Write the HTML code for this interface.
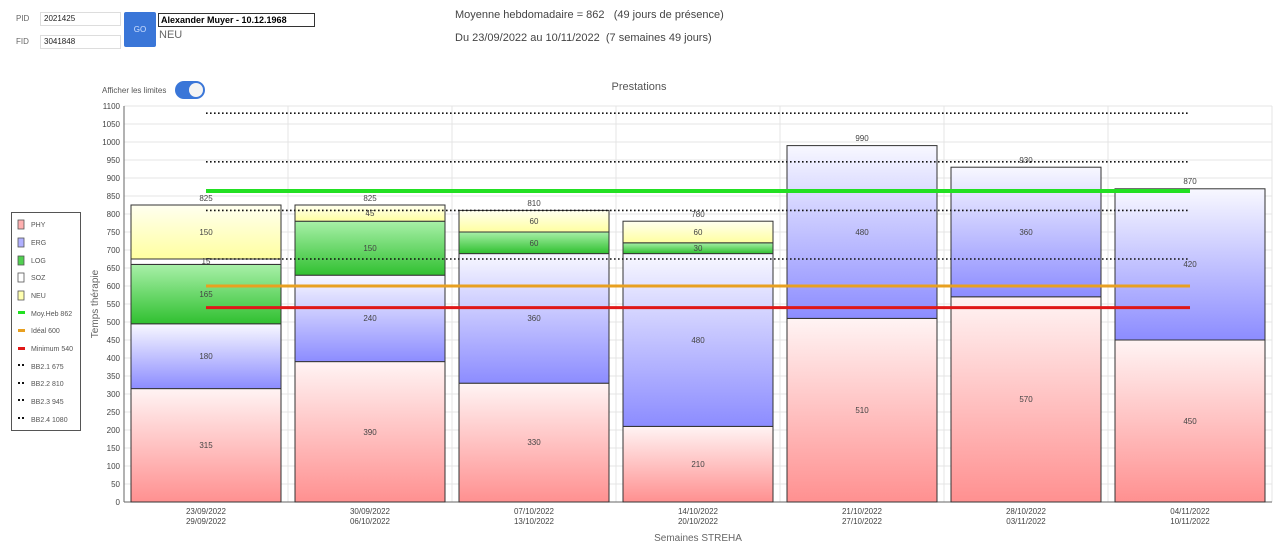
<!DOCTYPE html>
<html><head><meta charset="utf-8"><style>
body{margin:0;width:1280px;height:549px;background:#fff;font-family:"Liberation Sans",sans-serif;overflow:hidden;position:relative}
.a{position:absolute}
.inp{position:absolute;border:1px solid #ddd;font-size:8px;padding-left:3px;line-height:12px;height:12px;color:#222}
</style></head><body>
<div class="a" style="left:16px;top:14px;font-size:8px;color:#666">PID</div>
<div class="a" style="left:16px;top:37px;font-size:8px;color:#666">FID</div>
<div class="inp" style="left:40px;top:12px;width:76px">2021425</div>
<div class="inp" style="left:40px;top:35px;width:76px">3041848</div>
<div class="a" style="left:124px;top:12px;width:32px;height:35px;background:#3a76d8;border-radius:2px;color:#cfe0ff;font-size:8px;text-align:center;line-height:35px">GO</div>
<div class="a" style="left:158px;top:13px;width:153px;height:12px;border:1px solid #333;font-size:9px;font-weight:bold;line-height:12px;padding-left:2px">Alexander Muyer - 10.12.1968</div>
<div class="a" style="left:159px;top:29px;font-size:11px;color:#666">NEU</div>
<div class="a" style="left:455px;top:9px;font-size:11px;color:#444">Moyenne hebdomadaire = 862 &nbsp;&nbsp;(49 jours de présence)</div>
<div class="a" style="left:455px;top:32px;font-size:11px;color:#444">Du 23/09/2022 au 10/11/2022 &nbsp;(7 semaines 49 jours)</div>
<div class="a" style="left:102px;top:86px;font-size:8px;color:#555">Afficher les limites</div>
<div class="a" style="left:175px;top:81px;width:30px;height:18px;border-radius:9px;background:#3a76d8"><div class="a" style="left:14px;top:2px;width:14px;height:14px;border-radius:7px;background:#f4f4f4"></div></div>
<svg class="a" style="left:0;top:0" width="1280" height="549" font-family="Liberation Sans, sans-serif">
<defs>
<linearGradient id="phy" x1="0" y1="0" x2="0" y2="1"><stop offset="0" stop-color="#fff4f4"/><stop offset="1" stop-color="#ff9090"/></linearGradient>
<linearGradient id="erg" x1="0" y1="0" x2="0" y2="1"><stop offset="0" stop-color="#f8f8ff"/><stop offset="1" stop-color="#8c8cff"/></linearGradient>
<linearGradient id="log" x1="0" y1="0" x2="0" y2="1"><stop offset="0" stop-color="#a8f0a8"/><stop offset="1" stop-color="#30c030"/></linearGradient>
<linearGradient id="neu" x1="0" y1="0" x2="0" y2="1"><stop offset="0" stop-color="#fffff0"/><stop offset="1" stop-color="#ffffa0"/></linearGradient>
</defs>
<text x="639" y="90" font-size="11" fill="#555" text-anchor="middle">Prestations</text>
<g stroke="#e4e4e4" stroke-width="1">
<line x1="124" x2="1272" y1="106" y2="106"/><line x1="124" x2="1272" y1="124" y2="124"/><line x1="124" x2="1272" y1="142" y2="142"/><line x1="124" x2="1272" y1="160" y2="160"/><line x1="124" x2="1272" y1="178" y2="178"/><line x1="124" x2="1272" y1="196" y2="196"/><line x1="124" x2="1272" y1="214" y2="214"/><line x1="124" x2="1272" y1="232" y2="232"/><line x1="124" x2="1272" y1="250" y2="250"/><line x1="124" x2="1272" y1="268" y2="268"/><line x1="124" x2="1272" y1="286" y2="286"/><line x1="124" x2="1272" y1="304" y2="304"/><line x1="124" x2="1272" y1="322" y2="322"/><line x1="124" x2="1272" y1="340" y2="340"/><line x1="124" x2="1272" y1="358" y2="358"/><line x1="124" x2="1272" y1="376" y2="376"/><line x1="124" x2="1272" y1="394" y2="394"/><line x1="124" x2="1272" y1="412" y2="412"/><line x1="124" x2="1272" y1="430" y2="430"/><line x1="124" x2="1272" y1="448" y2="448"/><line x1="124" x2="1272" y1="466" y2="466"/><line x1="124" x2="1272" y1="484" y2="484"/>
<line x1="288" x2="288" y1="106" y2="502"/><line x1="452" x2="452" y1="106" y2="502"/><line x1="616" x2="616" y1="106" y2="502"/><line x1="780" x2="780" y1="106" y2="502"/><line x1="944" x2="944" y1="106" y2="502"/><line x1="1108" x2="1108" y1="106" y2="502"/><line x1="1272" x2="1272" y1="106" y2="502"/>
</g>
<g stroke="#666"><line x1="124" x2="124" y1="106" y2="502"/><line x1="124" x2="1272" y1="502" y2="502"/></g>
<g font-size="8" fill="#444" text-anchor="end">
<text x="120" y="109">1100</text><text x="120" y="127">1050</text><text x="120" y="145">1000</text><text x="120" y="163">950</text><text x="120" y="181">900</text><text x="120" y="199">850</text><text x="120" y="217">800</text><text x="120" y="235">750</text><text x="120" y="253">700</text><text x="120" y="271">650</text><text x="120" y="289">600</text><text x="120" y="307">550</text><text x="120" y="325">500</text><text x="120" y="343">450</text><text x="120" y="361">400</text><text x="120" y="379">350</text><text x="120" y="397">300</text><text x="120" y="415">250</text><text x="120" y="433">200</text><text x="120" y="451">150</text><text x="120" y="469">100</text><text x="120" y="487">50</text><text x="120" y="505">0</text>
</g>
<text transform="translate(98,304) rotate(-90)" font-size="10" fill="#666" text-anchor="middle">Temps thérapie</text>
<g stroke="#333" stroke-width="1">
<rect x="131" y="388.6" width="150" height="113.4" fill="url(#phy)"/><rect x="131" y="323.8" width="150" height="64.8" fill="url(#erg)"/><rect x="131" y="264.4" width="150" height="59.4" fill="url(#log)"/><rect x="131" y="259" width="150" height="5.4" fill="#fff"/><rect x="131" y="205" width="150" height="54" fill="url(#neu)"/>
<rect x="295" y="361.6" width="150" height="140.4" fill="url(#phy)"/><rect x="295" y="275.2" width="150" height="86.4" fill="url(#erg)"/><rect x="295" y="221.2" width="150" height="54" fill="url(#log)"/><rect x="295" y="205" width="150" height="16.2" fill="url(#neu)"/>
<rect x="459" y="383.2" width="150" height="118.8" fill="url(#phy)"/><rect x="459" y="253.6" width="150" height="129.6" fill="url(#erg)"/><rect x="459" y="232" width="150" height="21.6" fill="url(#log)"/><rect x="459" y="210.4" width="150" height="21.6" fill="url(#neu)"/>
<rect x="623" y="426.4" width="150" height="75.6" fill="url(#phy)"/><rect x="623" y="253.6" width="150" height="172.8" fill="url(#erg)"/><rect x="623" y="242.8" width="150" height="10.8" fill="url(#log)"/><rect x="623" y="221.2" width="150" height="21.6" fill="url(#neu)"/>
<rect x="787" y="318.4" width="150" height="183.6" fill="url(#phy)"/><rect x="787" y="145.6" width="150" height="172.8" fill="url(#erg)"/>
<rect x="951" y="296.8" width="150" height="205.2" fill="url(#phy)"/><rect x="951" y="167.2" width="150" height="129.6" fill="url(#erg)"/>
<rect x="1115" y="340" width="150" height="162" fill="url(#phy)"/><rect x="1115" y="188.8" width="150" height="151.2" fill="url(#erg)"/>
</g>
<g stroke="#111" stroke-width="1.6" stroke-dasharray="1.6,2.4">
<line x1="206" x2="1190" y1="259" y2="259"/><line x1="206" x2="1190" y1="210.4" y2="210.4"/><line x1="206" x2="1190" y1="161.8" y2="161.8"/><line x1="206" x2="1190" y1="113.2" y2="113.2"/>
</g>
<line x1="206" x2="1190" y1="191" y2="191" stroke="#22e022" stroke-width="4"/>
<line x1="206" x2="1190" y1="286" y2="286" stroke="#e8a020" stroke-width="3"/>
<line x1="206" x2="1190" y1="307.6" y2="307.6" stroke="#e01818" stroke-width="3"/>
<g font-size="8" fill="#444" text-anchor="middle">
<text x="206" y="448">315</text><text x="206" y="359">180</text><text x="206" y="297">165</text><text x="206" y="264">15</text><text x="206" y="235">150</text><text x="206" y="201">825</text>
<text x="370" y="435">390</text><text x="370" y="321">240</text><text x="370" y="251">150</text><text x="370" y="216">45</text><text x="370" y="201">825</text>
<text x="534" y="445">330</text><text x="534" y="321">360</text><text x="534" y="246">60</text><text x="534" y="224">60</text><text x="534" y="206">810</text>
<text x="698" y="467">210</text><text x="698" y="343">480</text><text x="698" y="251">30</text><text x="698" y="235">60</text><text x="698" y="217">780</text>
<text x="862" y="413">510</text><text x="862" y="235">480</text><text x="862" y="141">990</text>
<text x="1026" y="402">570</text><text x="1026" y="235">360</text><text x="1026" y="163">930</text>
<text x="1190" y="424">450</text><text x="1190" y="267">420</text><text x="1190" y="184">870</text>
</g>
<g font-size="8" fill="#444" text-anchor="middle">
<text x="206" y="514">23/09/2022</text><text x="206" y="524">29/09/2022</text>
<text x="370" y="514">30/09/2022</text><text x="370" y="524">06/10/2022</text>
<text x="534" y="514">07/10/2022</text><text x="534" y="524">13/10/2022</text>
<text x="698" y="514">14/10/2022</text><text x="698" y="524">20/10/2022</text>
<text x="862" y="514">21/10/2022</text><text x="862" y="524">27/10/2022</text>
<text x="1026" y="514">28/10/2022</text><text x="1026" y="524">03/11/2022</text>
<text x="1190" y="514">04/11/2022</text><text x="1190" y="524">10/11/2022</text>
</g>
<text x="698" y="541" font-size="10" fill="#666" text-anchor="middle">Semaines STREHA</text>
<rect x="11.5" y="212.5" width="69" height="218" fill="#fff" stroke="#555"/>
<g stroke="#555" stroke-width="0.8">
<rect x="18" y="220" width="6" height="9" fill="#ffb0b0"/><rect x="18" y="238" width="6" height="9" fill="#b0b0ff"/><rect x="18" y="256" width="6" height="9" fill="#50d050"/><rect x="18" y="273" width="6" height="9" fill="#fff"/><rect x="18" y="291" width="6" height="9" fill="#ffffb0"/>
</g>
<rect x="18" y="311" width="7" height="3" fill="#22e022"/><rect x="18" y="329" width="7" height="3" fill="#e8a020"/><rect x="18" y="347" width="7" height="3" fill="#e01818"/>
<g fill="#111"><rect x="18" y="364" width="2" height="2"/><rect x="22" y="364" width="2" height="2"/><rect x="18" y="382" width="2" height="2"/><rect x="22" y="382" width="2" height="2"/><rect x="18" y="399" width="2" height="2"/><rect x="22" y="399" width="2" height="2"/><rect x="18" y="417" width="2" height="2"/><rect x="22" y="417" width="2" height="2"/></g>
<g font-size="7" fill="#555">
<text x="31" y="227">PHY</text><text x="31" y="245">ERG</text><text x="31" y="263">LOG</text><text x="31" y="280">SOZ</text><text x="31" y="298">NEU</text><text x="31" y="316">Moy.Heb 862</text><text x="31" y="333">Idéal 600</text><text x="31" y="351">Minimum 540</text><text x="31" y="369">BB2.1 675</text><text x="31" y="386">BB2.2 810</text><text x="31" y="404">BB2.3 945</text><text x="31" y="422">BB2.4 1080</text>
</g>
</svg>
</body></html>
